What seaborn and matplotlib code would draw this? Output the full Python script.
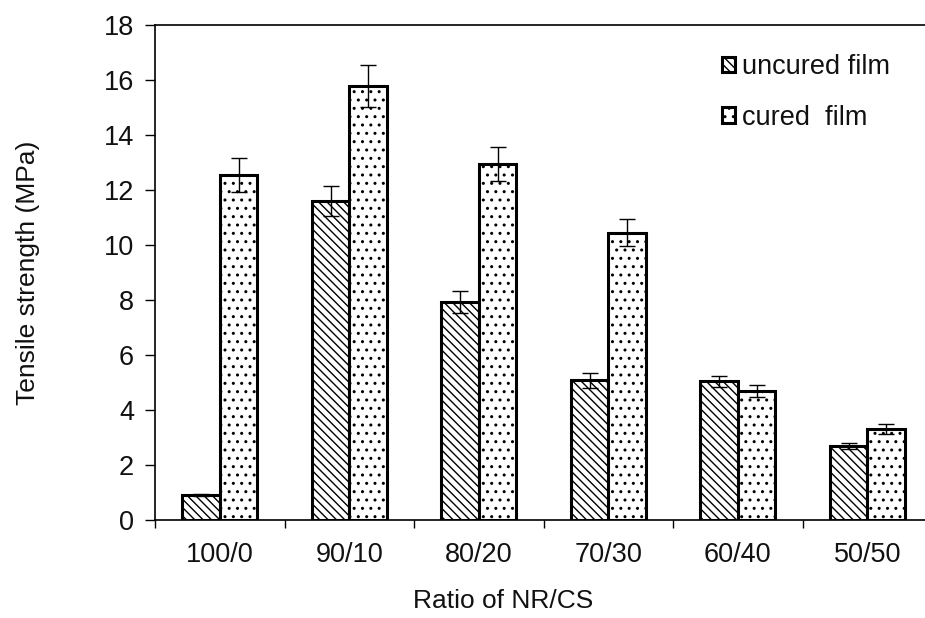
import pandas as pd
import matplotlib
matplotlib.use('Agg')
import matplotlib.pyplot as plt
import seaborn as sns

# --- data ---
ratios = ['100/0', '90/10', '80/20', '70/30', '60/40', '50/50']
uncured = [0.92, 11.6, 7.93, 5.08, 5.04, 2.69]
cured = [12.55, 15.78, 12.95, 10.45, 4.70, 3.31]
uncured_err = [0.04, 0.53, 0.40, 0.27, 0.21, 0.11]
cured_err = [0.61, 0.77, 0.62, 0.50, 0.22, 0.18]
series_names = ['uncured film', 'cured  film']

df = pd.DataFrame({
    'ratio': ratios * 2,
    'strength': uncured + cured,
    'film': [series_names[0]] * len(ratios) + [series_names[1]] * len(ratios),
})
errs = uncured_err + cured_err

sns.set_style('white')
plt.rcParams['font.family'] = ['Liberation Sans', 'DejaVu Sans']
plt.rcParams['hatch.linewidth'] = 1.0
plt.rcParams['hatch.color'] = 'black'
plt.rcParams['text.color'] = '#111111'
plt.rcParams['axes.labelcolor'] = '#111111'
plt.rcParams['xtick.color'] = '#111111'
plt.rcParams['ytick.color'] = '#111111'

fig = plt.figure(figsize=(9.25, 6.18), dpi=100)
ax = fig.add_axes([0.1676, 0.1586, 0.84, 0.801])

sns.barplot(data=df, x='ratio', y='strength', hue='film', order=ratios,
            hue_order=series_names, width=0.58, errorbar=None,
            palette=['white', 'white'], edgecolor='black', linewidth=2.2,
            ax=ax)

hatches = ['\\\\\\\\', '..']
i = 0
for cont, h in zip(ax.containers, hatches):
    for p in cont:
        p.set_hatch(h)
        p.set_edgecolor('black')
        ax.errorbar(p.get_x() + p.get_width() / 2, p.get_height(), yerr=errs[i],
                    fmt='none', ecolor='black', elinewidth=1, capsize=5.5,
                    capthick=1, zorder=5)
        i += 1

ax.set_ylim(0, 18)
ax.set_yticks(range(0, 19, 2))
ax.set_xlim(-0.5, 5.5)
ax.set_xticks(range(len(ratios)))
ax.set_xticklabels(ratios)
ax.set_xticks([k - 0.5 for k in range(len(ratios))], minor=True)
ax.tick_params(axis='x', which='major', length=0, pad=16, labelsize=19.5)
ax.tick_params(axis='x', which='minor', length=6, width=1, direction='out',
               color='black', bottom=True)
ax.tick_params(axis='y', length=7, width=1, direction='out', pad=8,
               labelsize=19.5, color='black', left=True)

for s in ['left', 'bottom', 'top']:
    ax.spines[s].set_color('black')
    ax.spines[s].set_linewidth(1.2)
ax.spines['right'].set_visible(False)

ax.set_xlabel('Ratio of NR/CS', fontsize=19)
ax.set_ylabel('Tensile strength (MPa)', fontsize=19)
ax.xaxis.set_label_coords(0.448, -0.14)
ax.yaxis.set_label_coords(-0.148, 0.5)

ax.legend(ax.containers, series_names, frameon=False, fontsize=19.5,
          handlelength=0.5, handleheight=0.5, handletextpad=0.25,
          labelspacing=0.9, loc='upper left', bbox_to_anchor=(0.698, 0.99))

fig.savefig('out.png', dpi=100)
